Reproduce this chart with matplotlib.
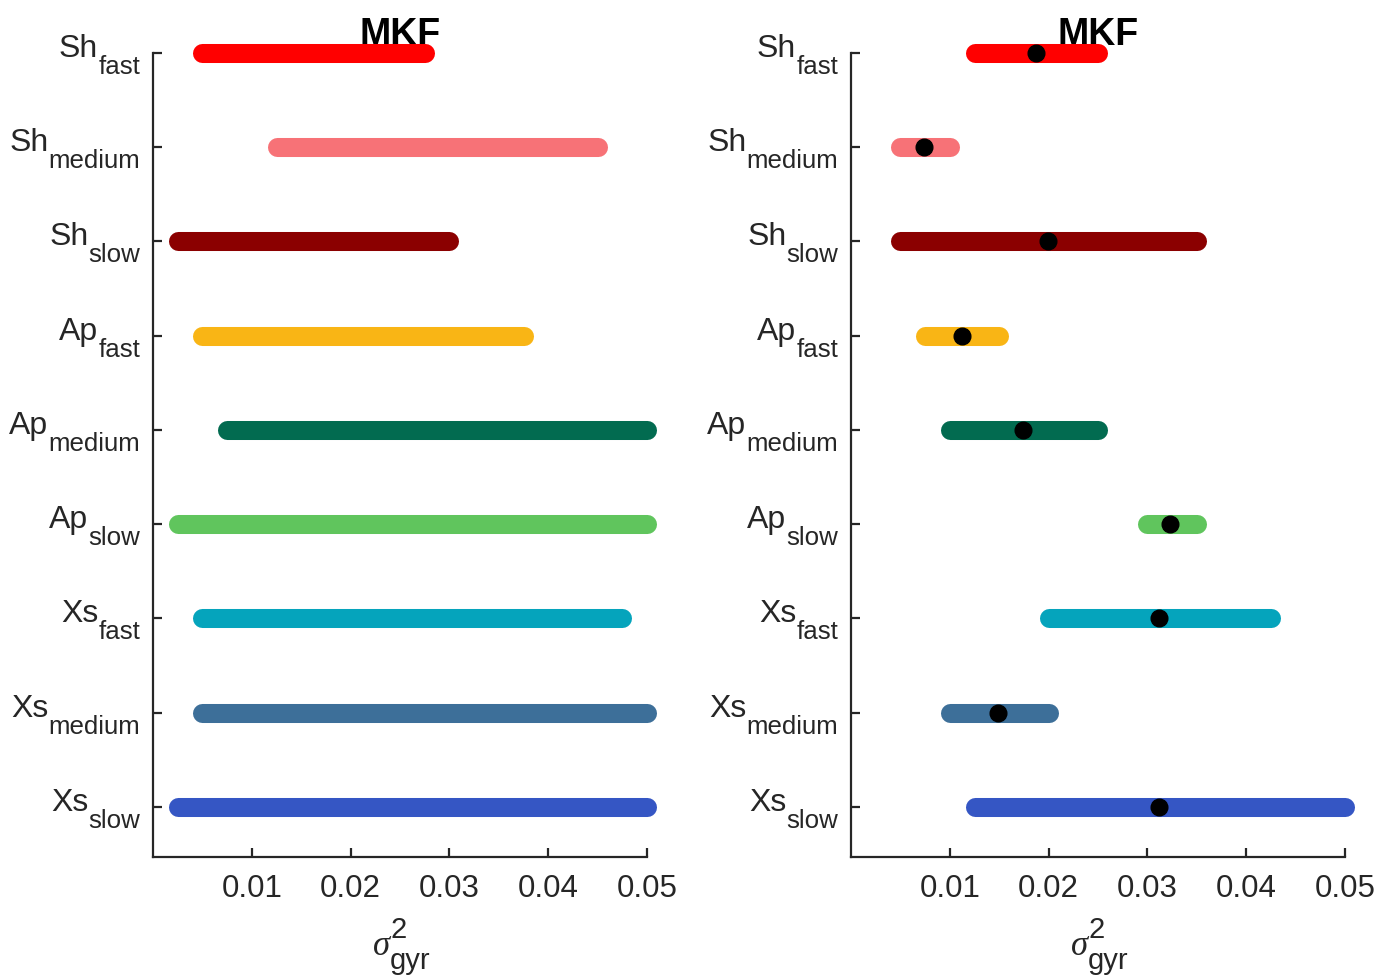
import matplotlib
matplotlib.use('Agg')
import matplotlib.pyplot as plt

plt.rcParams['font.family'] = ['Liberation Sans', 'DejaVu Sans']

# Данные
groups = ['Sh', 'Sh', 'Sh', 'Ap', 'Ap', 'Ap', 'Xs', 'Xs', 'Xs']
speeds = ['fast', 'medium', 'slow', 'fast', 'medium', 'slow', 'fast', 'medium', 'slow']
colors = ['#FF0000', '#F77277', '#8B0000', '#F9B515', '#026B50',
          '#60C55D', '#05A4BC', '#3D6F99', '#3556C4']

# левая панель: априорные интервалы
prior_lo = [0.005, 0.0125, 0.0025, 0.005, 0.0075, 0.0025, 0.005, 0.005, 0.0025]
prior_hi = [0.0275, 0.045, 0.030, 0.0375, 0.050, 0.050, 0.0475, 0.050, 0.050]

# правая панель: апостериорные интервалы и оценки
post_lo = [0.0125, 0.005, 0.005, 0.0075, 0.010, 0.030, 0.020, 0.010, 0.0125]
post_hi = [0.025, 0.010, 0.035, 0.015, 0.025, 0.035, 0.0425, 0.020, 0.050]
post_best = [0.0187, 0.0074, 0.0199, 0.0112, 0.0174, 0.0323, 0.0312, 0.0149, 0.0312]

xticks = [0.01, 0.02, 0.03, 0.04, 0.05]
ypos = list(range(9, 0, -1))

axis_col = '#262626'

fig = plt.figure(figsize=(13.74, 9.76), dpi=100)
ax1 = fig.add_axes([0.1114, 0.1219, 0.3595, 0.8241])
ax2 = fig.add_axes([0.6194, 0.1219, 0.3595, 0.8241])


def draw_panel(ax, lo, hi, best=None):
    for i in range(9):
        ax.plot([lo[i], hi[i]], [ypos[i], ypos[i]], color=colors[i], lw=13.7,
                solid_capstyle='round', clip_on=False, zorder=4)
        if best is not None:
            ax.plot(best[i], ypos[i], 'o', color='black', ms=12, clip_on=False, zorder=5)
    ax.set_xlim(0, 0.05)
    ax.set_ylim(0.47, 9)
    ax.set_xticks(xticks)
    ax.set_xticklabels(['%.2f' % t for t in xticks], fontsize=22.5, color='#262626')
    ax.set_yticks(ypos)
    ax.set_yticklabels([])
    ax.spines['top'].set_visible(False)
    ax.spines['right'].set_visible(False)
    for s in ['left', 'bottom']:
        ax.spines[s].set_color(axis_col)
        ax.spines[s].set_linewidth(1.6)
    ax.tick_params(direction='in', length=6.5, width=1.6, color=axis_col)
    ax.tick_params(axis='x', pad=12)
    ax.set_title('MKF', fontsize=27, fontweight='bold', pad=5.5, zorder=1)

    renderer = fig.canvas.get_renderer()
    ytr = ax.get_yaxis_transform()
    for i in range(9):
        sub = ax.annotate(speeds[i], xy=(0, ypos[i]), xycoords=ytr,
                          xytext=(-13, -21), textcoords='offset pixels',
                          ha='right', va='baseline', fontsize=18.6, color='#262626')
        w = sub.get_window_extent(renderer).width
        ax.annotate(groups[i], xy=(0, ypos[i]), xycoords=ytr,
                    xytext=(-13 - w, -4), textcoords='offset pixels',
                    ha='right', va='baseline', fontsize=23, color='#262626')

    # подпись оси x: sigma^2_gyr
    ax.annotate('σ', xy=(0.5, 0), xycoords='axes fraction', xytext=(-10, -98),
                textcoords='offset pixels', ha='right', va='baseline',
                fontsize=25, style='italic', family='Liberation Serif', color='#262626',
                annotation_clip=False)
    ax.annotate('2', xy=(0.5, 0), xycoords='axes fraction', xytext=(-10, -81),
                textcoords='offset pixels', ha='left', va='baseline',
                fontsize=21, color='#262626', annotation_clip=False)
    ax.annotate('gyr', xy=(0.5, 0), xycoords='axes fraction', xytext=(-10, -112),
                textcoords='offset pixels', ha='left', va='baseline',
                fontsize=21, color='#262626', annotation_clip=False)


draw_panel(ax1, prior_lo, prior_hi)
draw_panel(ax2, post_lo, post_hi, post_best)

fig.savefig('out.png', dpi=100)
